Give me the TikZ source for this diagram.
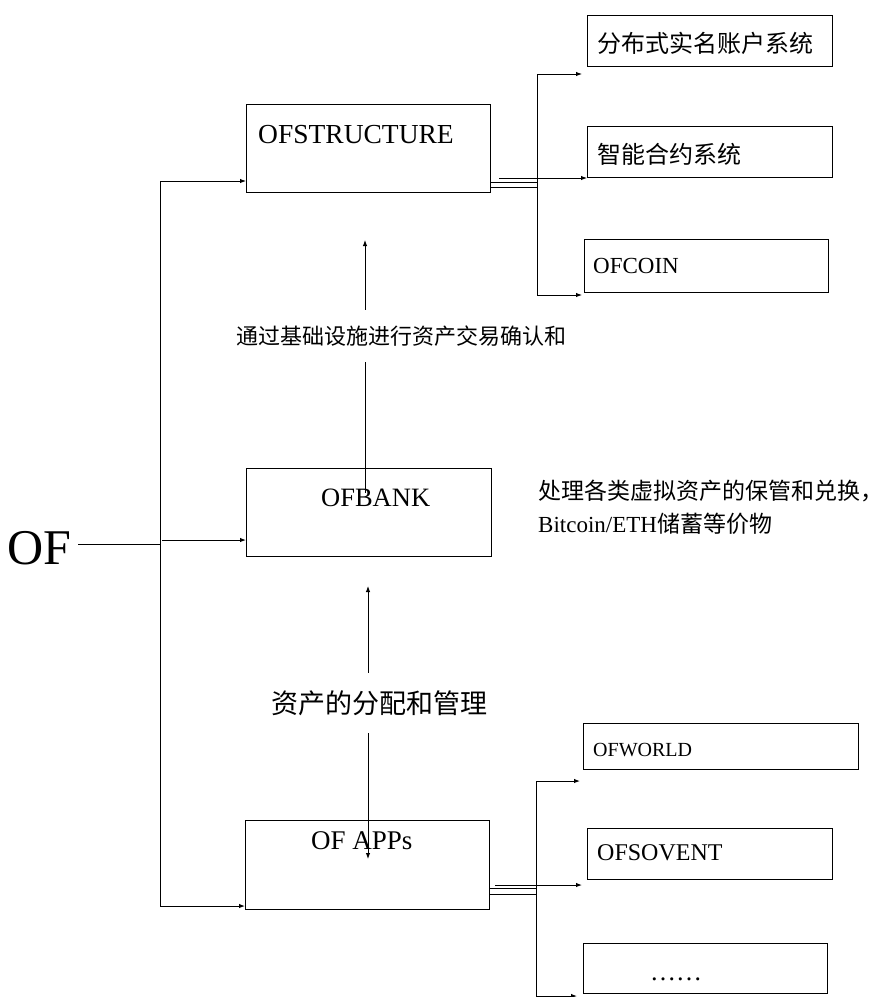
\documentclass[tikz,border=0pt]{standalone}
\usepackage{fontspec}
\setmainfont{Liberation Serif}
\newfontfamily\cjk{Noto Sans CJK SC}
\usetikzlibrary{arrows.meta}
\newcommand{\fs}[1]{\fontsize{#1}{#1}\selectfont}
\begin{document}
\begin{tikzpicture}[x=1pt,y=-1pt,
  box/.style={draw, line width=1.2pt, inner sep=0pt, anchor=north west},
  conn/.style={line width=1pt},
  arr/.style={conn, -{Latex[length=6pt,width=4.5pt]}},
  arrboth/.style={conn, {Latex[length=6pt,width=4.5pt]}-{Latex[length=6pt,width=4.5pt]}},
  lat/.style={inner sep=0pt, anchor=base west},
  han/.style={inner sep=0pt, anchor=west},
]
\useasboundingbox (0,0) rectangle (883,997);

% boxes
\node[box, minimum width=244pt, minimum height=88pt] (ofs) at (246,104) {};
\node[box, minimum width=245pt, minimum height=88pt] (ofb) at (246,468) {};
\node[box, minimum width=244pt, minimum height=89pt] (ofa) at (245,820) {};
\node[box, minimum width=245pt, minimum height=51pt] (r1) at (587,15) {};
\node[box, minimum width=245pt, minimum height=51pt] (r2) at (587,126) {};
\node[box, minimum width=244pt, minimum height=53pt] (r3) at (584,239) {};
\node[box, minimum width=275pt, minimum height=46pt] (r4) at (583,723) {};
\node[box, minimum width=245pt, minimum height=51pt] (r5) at (587,828) {};
\node[box, minimum width=244pt, minimum height=50pt] (r6) at (583,943) {};

% box texts
\node[lat, font=\fs{27.5}] (ofst) at (258,143) {OFSTRUCTURE};
\node[lat, font=\fs{26.5}] (ofbt) at (321,506) {OFBANK};
\node[lat, font=\fs{27}] (ofat) at (311,849) {OF APPs};
\node[han, font={\cjk\fs{24}}] (r1t) at (597,43) {分布式实名账户系统};
\node[han, font={\cjk\fs{24}}] (r2t) at (597,154) {智能合约系统};
\node[lat, font=\fs{23}] (r3t) at (593,273) {OFCOIN};
\node[lat, font=\fs{20}] (r4t) at (593,756) {OFWORLD};
\node[lat, font=\fs{24}] (r5t) at (597,860) {OFSOVENT};
\node[inner sep=0pt, anchor=base, font=\fs{26}] (r6t) at (676,980) {……};

% OF and main spine
\node[lat, font=\fs{50}] (oft) at (7,564) {OF};
\coordinate (ofj) at (160,544);
\coordinate (st) at (160,181);
\coordinate (sb) at (160,906);
\coordinate (bj) at (162,540);
\draw[conn] ([xshift=7pt]oft.east |- ofj) -- (ofj);
\draw[conn] (st) -- (sb);
\draw[arr] (st) -- (ofs.west |- st);
\draw[arr] (bj) -- (ofb.west |- bj);
\draw[arr] (sb) -- (ofa.west |- sb);

% vertical arrows with labels
\coordinate (v1s) at (365,493);
\coordinate (v1e) at (365,240);
\draw[arr] (v1s) -- (v1e);
\node[han, fill=white, minimum height=52pt, font={\cjk\fs{22}}] (lab1) at (236,336) {通过基础设施进行资产交易确认和};

\coordinate (v2s) at (368,859);
\coordinate (v2e) at (368,586);
\draw[arrboth] (v2s) -- (v2e);
\node[han, fill=white, minimum height=60pt, font={\cjk\fs{27}}] (lab2) at (271,703) {资产的分配和管理};

% side note
\node[han, font={\cjk\fs{23}}] (n1) at (538,491) {处理各类虚拟资产的保管和兑换，};
\node[lat, font=\fs{23}] (n2) at (538,532) {Bitcoin/ETH{\cjk 储蓄等价物}};

% top-right fan
\coordinate (tj) at (537,74);
\coordinate (tb) at (537,295);
\coordinate (tm) at (499,178);
\coordinate (ta1) at (582,74);
\coordinate (ta3) at (582,295);
\coordinate (td1) at (537,182);
\coordinate (td2) at (537,187);
\draw[conn] (tj) -- (tb);
\draw[arr] (tj) -- (ta1);
\draw[arr] (tm) -- (r2.west |- tm);
\draw[arr] (tb) -- (ta3);
\draw[conn] (ofs.east |- td1) -- (td1);
\draw[conn] (ofs.east |- td2) -- (td2);

% bottom-right fan
\coordinate (bjt) at (536,781);
\coordinate (bjb) at (536,997);
\coordinate (bm) at (495,885);
\coordinate (ba1) at (580,781);
\coordinate (ba2) at (582,885);
\coordinate (ba3s) at (536,996);
\coordinate (ba3) at (577,996);
\coordinate (bd1) at (536,888);
\coordinate (bd2) at (536,894);
\draw[conn] (bjt) -- (bjb);
\draw[arr] (bjt) -- (ba1);
\draw[arr] (bm) -- (ba2);
\draw[arr] (ba3s) -- (ba3);
\draw[conn] (ofa.east |- bd1) -- (bd1);
\draw[conn] (ofa.east |- bd2) -- (bd2);
\end{tikzpicture}
\end{document}
